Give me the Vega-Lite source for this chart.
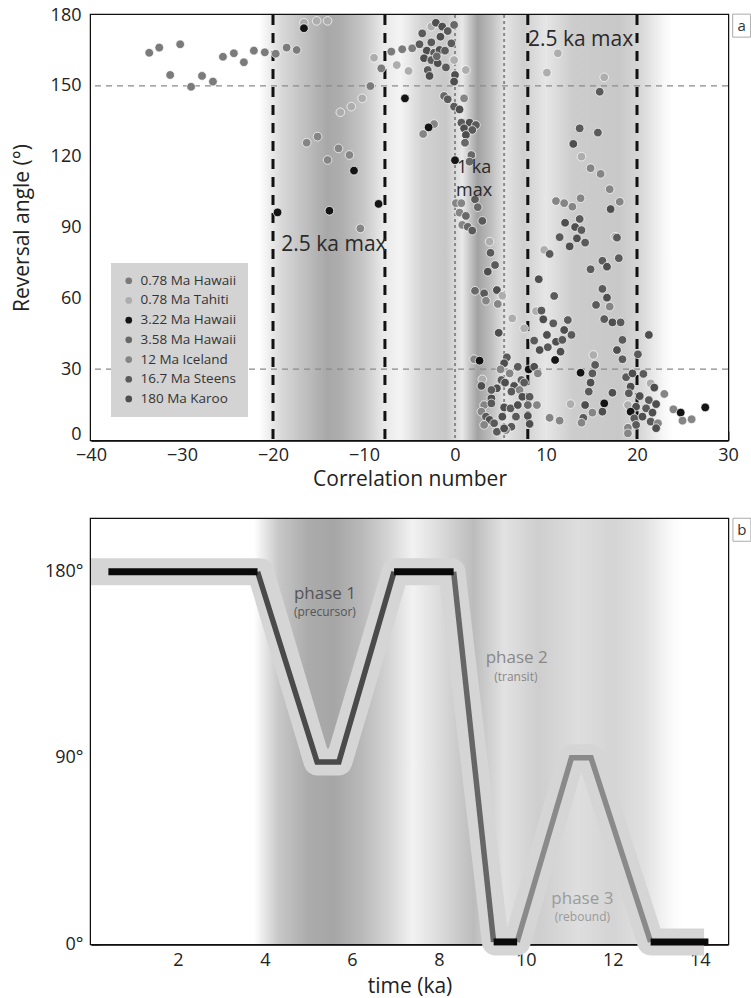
{
  "$schema": "https://vega.github.io/schema/vega-lite/v6.json",
  "background": "white",
  "padding": {"left": 9, "top": 4, "right": 0, "bottom": 0},
  "spacing": 24,
  "config": {
    "font": "Open Sans",
    "view": {"stroke": "#111", "strokeWidth": 2.5},
    "axis": {"grid": false, "domainColor": "#111", "domainWidth": 2.5, "tickColor": "#111", "tickWidth": 1.8, "tickSize": -9, "labelFontSize": 18, "labelColor": "#222", "titleFontSize": 21, "titleFontWeight": "normal", "titleColor": "#222", "labelPadding": 19, "labelFlush": false, "labelOverlap": false}
  },
  "resolve": {"scale": {"color": "independent"}, "legend": {"color": "independent"}},
  "datasets": {
    "pts": [
      {"x": -33.6, "y": 164.0, "s": "0.78 Ma Hawaii"}, {"x": -32.5, "y": 166.2, "s": "0.78 Ma Hawaii"}, {"x": -31.3, "y": 154.6, "s": "0.78 Ma Hawaii"}, {"x": -30.2, "y": 167.6, "s": "0.78 Ma Hawaii"}, {"x": -29.0, "y": 149.6, "s": "0.78 Ma Hawaii"}, {"x": -27.8, "y": 154.2, "s": "0.78 Ma Hawaii"}, {"x": -26.6, "y": 151.8, "s": "0.78 Ma Hawaii"}, {"x": -25.5, "y": 162.3, "s": "0.78 Ma Hawaii"}, {"x": -24.3, "y": 163.8, "s": "0.78 Ma Hawaii"}, {"x": -23.2, "y": 160.0, "s": "0.78 Ma Hawaii"}, {"x": -22.1, "y": 164.9, "s": "0.78 Ma Hawaii"}, {"x": -20.9, "y": 164.2, "s": "0.78 Ma Hawaii"}, {"x": -19.7, "y": 163.6, "s": "0.78 Ma Hawaii"}, {"x": -18.5, "y": 166.2, "s": "0.78 Ma Hawaii"}, {"x": -17.4, "y": 165.2, "s": "0.78 Ma Hawaii"},
      {"x": -16.6, "y": 176.7, "s": "0.78 Ma Tahiti"}, {"x": -15.2, "y": 177.5, "s": "0.78 Ma Tahiti"}, {"x": -14.0, "y": 177.5, "s": "0.78 Ma Tahiti"}, {"x": -16.6, "y": 174.4, "s": "3.22 Ma Hawaii"},
      {"x": -8.9, "y": 161.9, "s": "0.78 Ma Tahiti"}, {"x": -10.2, "y": 144.7, "s": "0.78 Ma Tahiti"}, {"x": -11.4, "y": 141.2, "s": "0.78 Ma Tahiti"}, {"x": -12.6, "y": 138.8, "s": "0.78 Ma Tahiti"},
      {"x": -8.1, "y": 157.4, "s": "0.78 Ma Hawaii"}, {"x": -9.3, "y": 149.9, "s": "0.78 Ma Hawaii"},
      {"x": -15.1, "y": 128.5, "s": "12 Ma Iceland"}, {"x": -16.3, "y": 125.9, "s": "12 Ma Iceland"}, {"x": -12.8, "y": 123.5, "s": "12 Ma Iceland"}, {"x": -11.6, "y": 120.7, "s": "12 Ma Iceland"}, {"x": -14.0, "y": 118.6, "s": "12 Ma Iceland"},
      {"x": -11.1, "y": 114.1, "s": "3.22 Ma Hawaii"}, {"x": -19.5, "y": 96.4, "s": "3.22 Ma Hawaii"}, {"x": -13.8, "y": 97.1, "s": "3.22 Ma Hawaii"}, {"x": -8.4, "y": 100.0, "s": "3.22 Ma Hawaii"}, {"x": -10.4, "y": 89.6, "s": "12 Ma Iceland"},
      {"x": -7.0, "y": 164.5, "s": "0.78 Ma Hawaii"}, {"x": -5.8, "y": 165.5, "s": "0.78 Ma Hawaii"}, {"x": -6.4, "y": 158.8, "s": "0.78 Ma Tahiti"}, {"x": -5.1, "y": 156.3, "s": "0.78 Ma Tahiti"}, {"x": -4.7, "y": 165.9, "s": "0.78 Ma Hawaii"},
      {"x": -3.9, "y": 167.6, "s": "16.7 Ma Steens"}, {"x": -3.6, "y": 172.2, "s": "16.7 Ma Steens"}, {"x": -2.6, "y": 175.1, "s": "0.78 Ma Tahiti"}, {"x": -2.1, "y": 176.7, "s": "180 Ma Karoo"}, {"x": -1.4, "y": 175.1, "s": "180 Ma Karoo"}, {"x": -0.8, "y": 173.2, "s": "16.7 Ma Steens"}, {"x": -0.1, "y": 175.8, "s": "3.58 Ma Hawaii"},
      {"x": -1.6, "y": 170.8, "s": "180 Ma Karoo"}, {"x": -2.6, "y": 168.4, "s": "16.7 Ma Steens"}, {"x": -3.1, "y": 164.9, "s": "180 Ma Karoo"}, {"x": -2.3, "y": 164.0, "s": "16.7 Ma Steens"}, {"x": -1.7, "y": 165.2, "s": "180 Ma Karoo"}, {"x": -1.1, "y": 164.9, "s": "16.7 Ma Steens"}, {"x": -3.4, "y": 161.7, "s": "180 Ma Karoo"}, {"x": -2.6, "y": 160.9, "s": "16.7 Ma Steens"}, {"x": -1.9, "y": 159.6, "s": "180 Ma Karoo"}, {"x": -3.0, "y": 156.7, "s": "16.7 Ma Steens"}, {"x": -2.8, "y": 154.2, "s": "180 Ma Karoo"}, {"x": -1.0, "y": 157.8, "s": "16.7 Ma Steens"}, {"x": -0.1, "y": 160.9, "s": "0.78 Ma Tahiti"}, {"x": 1.2, "y": 156.7, "s": "0.78 Ma Tahiti"}, {"x": 0.0, "y": 154.6, "s": "180 Ma Karoo"}, {"x": -0.1, "y": 151.8, "s": "180 Ma Karoo"}, {"x": -0.4, "y": 168.0, "s": "16.7 Ma Steens"}, {"x": -2.0, "y": 162.5, "s": "3.58 Ma Hawaii"},
      {"x": -5.5, "y": 144.7, "s": "3.22 Ma Hawaii"}, {"x": -1.2, "y": 145.7, "s": "3.58 Ma Hawaii"}, {"x": -0.8, "y": 144.3, "s": "16.7 Ma Steens"}, {"x": 1.0, "y": 144.7, "s": "12 Ma Iceland"}, {"x": -0.1, "y": 141.2, "s": "16.7 Ma Steens"}, {"x": 0.5, "y": 140.0, "s": "180 Ma Karoo"},
      {"x": -2.3, "y": 133.8, "s": "12 Ma Iceland"}, {"x": -2.9, "y": 132.4, "s": "3.22 Ma Hawaii"}, {"x": -3.5, "y": 129.6, "s": "12 Ma Iceland"}, {"x": 0.7, "y": 134.4, "s": "16.7 Ma Steens"}, {"x": 1.6, "y": 134.4, "s": "180 Ma Karoo"}, {"x": 2.3, "y": 133.4, "s": "16.7 Ma Steens"}, {"x": 1.0, "y": 132.0, "s": "180 Ma Karoo"}, {"x": 1.9, "y": 131.3, "s": "16.7 Ma Steens"}, {"x": 1.2, "y": 129.2, "s": "180 Ma Karoo"}, {"x": 1.1, "y": 125.9, "s": "3.58 Ma Hawaii"}, {"x": 1.8, "y": 120.7, "s": "3.58 Ma Hawaii"}, {"x": 0.0, "y": 118.5, "s": "3.22 Ma Hawaii"}, {"x": 1.6, "y": 117.9, "s": "3.58 Ma Hawaii"},
      {"x": 0.1, "y": 100.3, "s": "12 Ma Iceland"}, {"x": 0.7, "y": 100.3, "s": "12 Ma Iceland"}, {"x": 2.2, "y": 101.9, "s": "16.7 Ma Steens"}, {"x": 2.5, "y": 98.6, "s": "3.58 Ma Hawaii"}, {"x": 0.5, "y": 96.3, "s": "12 Ma Iceland"}, {"x": 1.2, "y": 94.9, "s": "3.58 Ma Hawaii"}, {"x": 3.0, "y": 92.8, "s": "16.7 Ma Steens"}, {"x": 0.8, "y": 91.1, "s": "12 Ma Iceland"}, {"x": 1.4, "y": 90.3, "s": "3.58 Ma Hawaii"}, {"x": 1.9, "y": 88.7, "s": "16.7 Ma Steens"}, {"x": 3.8, "y": 84.0, "s": "0.78 Ma Tahiti"}, {"x": 3.9, "y": 79.3, "s": "16.7 Ma Steens"}, {"x": 4.4, "y": 74.1, "s": "16.7 Ma Steens"}, {"x": 3.6, "y": 71.3, "s": "180 Ma Karoo"},
      {"x": 2.2, "y": 63.2, "s": "3.58 Ma Hawaii"}, {"x": 3.2, "y": 62.1, "s": "16.7 Ma Steens"}, {"x": 4.6, "y": 63.5, "s": "180 Ma Karoo"}, {"x": 3.4, "y": 59.0, "s": "12 Ma Iceland"}, {"x": 4.7, "y": 57.6, "s": "12 Ma Iceland"}, {"x": 5.2, "y": 61.1, "s": "0.78 Ma Tahiti"}, {"x": 6.3, "y": 51.5, "s": "0.78 Ma Tahiti"}, {"x": 4.8, "y": 45.4, "s": "180 Ma Karoo"}, {"x": 7.6, "y": 47.3, "s": "0.78 Ma Tahiti"},
      {"x": 9.2, "y": 68.1, "s": "180 Ma Karoo"}, {"x": 10.9, "y": 61.0, "s": "16.7 Ma Steens"}, {"x": 8.9, "y": 54.6, "s": "0.78 Ma Tahiti"}, {"x": 9.5, "y": 54.8, "s": "16.7 Ma Steens"}, {"x": 9.7, "y": 51.1, "s": "180 Ma Karoo"}, {"x": 10.8, "y": 49.4, "s": "16.7 Ma Steens"}, {"x": 10.1, "y": 44.5, "s": "180 Ma Karoo"}, {"x": 8.7, "y": 42.1, "s": "16.7 Ma Steens"}, {"x": 9.3, "y": 38.1, "s": "180 Ma Karoo"}, {"x": 10.2, "y": 39.3, "s": "16.7 Ma Steens"}, {"x": 11.1, "y": 41.6, "s": "180 Ma Karoo"}, {"x": 11.8, "y": 42.4, "s": "16.7 Ma Steens"}, {"x": 12.0, "y": 46.6, "s": "180 Ma Karoo"}, {"x": 12.4, "y": 50.8, "s": "16.7 Ma Steens"}, {"x": 12.8, "y": 44.5, "s": "16.7 Ma Steens"}, {"x": 11.6, "y": 37.4, "s": "180 Ma Karoo"},
      {"x": 2.1, "y": 34.2, "s": "12 Ma Iceland"}, {"x": 2.7, "y": 33.6, "s": "3.22 Ma Hawaii"}, {"x": 5.7, "y": 35.0, "s": "16.7 Ma Steens"}, {"x": 5.4, "y": 32.5, "s": "180 Ma Karoo"}, {"x": 5.0, "y": 29.9, "s": "12 Ma Iceland"}, {"x": 6.9, "y": 31.0, "s": "16.7 Ma Steens"}, {"x": 8.1, "y": 29.9, "s": "3.22 Ma Hawaii"}, {"x": 8.7, "y": 31.0, "s": "180 Ma Karoo"}, {"x": 9.1, "y": 28.2, "s": "12 Ma Iceland"}, {"x": 11.0, "y": 33.9, "s": "3.22 Ma Hawaii"},
      {"x": 3.0, "y": 25.7, "s": "0.78 Ma Tahiti"}, {"x": 2.9, "y": 22.9, "s": "180 Ma Karoo"}, {"x": 6.0, "y": 28.2, "s": "12 Ma Iceland"}, {"x": 5.1, "y": 25.4, "s": "16.7 Ma Steens"}, {"x": 6.5, "y": 22.9, "s": "180 Ma Karoo"}, {"x": 7.3, "y": 25.4, "s": "16.7 Ma Steens"}, {"x": 4.6, "y": 21.9, "s": "180 Ma Karoo"}, {"x": 6.2, "y": 20.5, "s": "16.7 Ma Steens"}, {"x": 7.1, "y": 21.2, "s": "12 Ma Iceland"}, {"x": 7.4, "y": 18.3, "s": "180 Ma Karoo"}, {"x": 8.2, "y": 18.3, "s": "16.7 Ma Steens"}, {"x": 4.0, "y": 17.7, "s": "180 Ma Karoo"}, {"x": 3.2, "y": 14.8, "s": "12 Ma Iceland"}, {"x": 4.0, "y": 15.5, "s": "16.7 Ma Steens"}, {"x": 5.4, "y": 13.8, "s": "180 Ma Karoo"}, {"x": 6.1, "y": 13.4, "s": "16.7 Ma Steens"}, {"x": 6.9, "y": 14.8, "s": "180 Ma Karoo"}, {"x": 8.0, "y": 14.8, "s": "3.58 Ma Hawaii"}, {"x": 9.0, "y": 14.8, "s": "12 Ma Iceland"},
      {"x": 2.9, "y": 12.0, "s": "12 Ma Iceland"}, {"x": 3.4, "y": 9.9, "s": "16.7 Ma Steens"}, {"x": 3.8, "y": 8.5, "s": "180 Ma Karoo"}, {"x": 4.3, "y": 7.1, "s": "16.7 Ma Steens"}, {"x": 3.2, "y": 6.4, "s": "12 Ma Iceland"}, {"x": 5.2, "y": 9.9, "s": "180 Ma Karoo"}, {"x": 6.7, "y": 9.9, "s": "16.7 Ma Steens"}, {"x": 8.0, "y": 10.2, "s": "180 Ma Karoo"}, {"x": 6.2, "y": 5.6, "s": "16.7 Ma Steens"}, {"x": 8.2, "y": 6.8, "s": "180 Ma Karoo"}, {"x": 10.4, "y": 9.4, "s": "12 Ma Iceland"}, {"x": 11.5, "y": 8.2, "s": "12 Ma Iceland"}, {"x": 4.0, "y": 21.2, "s": "16.7 Ma Steens"}, {"x": 5.5, "y": 24.3, "s": "180 Ma Karoo"}, {"x": 7.6, "y": 24.3, "s": "16.7 Ma Steens"}, {"x": 4.6, "y": 3.5, "s": "16.7 Ma Steens"}, {"x": 5.6, "y": 4.2, "s": "12 Ma Iceland"}, {"x": 5.4, "y": 4.9, "s": "180 Ma Karoo"},
      {"x": 11.5, "y": 85.9, "s": "16.7 Ma Steens"}, {"x": 12.6, "y": 82.0, "s": "180 Ma Karoo"}, {"x": 9.8, "y": 80.5, "s": "0.78 Ma Tahiti"}, {"x": 10.4, "y": 78.8, "s": "16.7 Ma Steens"},
      {"x": 11.3, "y": 163.8, "s": "0.78 Ma Tahiti"}, {"x": 10.1, "y": 155.6, "s": "0.78 Ma Tahiti"}, {"x": 16.4, "y": 153.6, "s": "0.78 Ma Tahiti"}, {"x": 15.9, "y": 147.5, "s": "16.7 Ma Steens"},
      {"x": 13.7, "y": 132.0, "s": "16.7 Ma Steens"}, {"x": 15.7, "y": 130.2, "s": "16.7 Ma Steens"}, {"x": 13.0, "y": 125.4, "s": "180 Ma Karoo"}, {"x": 13.9, "y": 120.0, "s": "0.78 Ma Tahiti"}, {"x": 14.9, "y": 115.1, "s": "12 Ma Iceland"}, {"x": 16.0, "y": 112.7, "s": "12 Ma Iceland"}, {"x": 17.0, "y": 106.2, "s": "12 Ma Iceland"}, {"x": 18.1, "y": 100.9, "s": "12 Ma Iceland"}, {"x": 17.1, "y": 97.8, "s": "180 Ma Karoo"},
      {"x": 11.1, "y": 101.2, "s": "12 Ma Iceland"}, {"x": 12.0, "y": 100.3, "s": "12 Ma Iceland"}, {"x": 12.9, "y": 98.8, "s": "12 Ma Iceland"}, {"x": 13.8, "y": 102.4, "s": "12 Ma Iceland"}, {"x": 12.1, "y": 92.0, "s": "180 Ma Karoo"}, {"x": 13.7, "y": 93.6, "s": "16.7 Ma Steens"}, {"x": 13.2, "y": 90.2, "s": "180 Ma Karoo"}, {"x": 13.9, "y": 88.9, "s": "16.7 Ma Steens"}, {"x": 13.4, "y": 85.4, "s": "180 Ma Karoo"}, {"x": 14.3, "y": 83.6, "s": "16.7 Ma Steens"},
      {"x": 17.6, "y": 86.1, "s": "0.78 Ma Tahiti"}, {"x": 17.8, "y": 85.7, "s": "16.7 Ma Steens"}, {"x": 18.0, "y": 77.0, "s": "16.7 Ma Steens"}, {"x": 16.2, "y": 75.9, "s": "16.7 Ma Steens"}, {"x": 16.7, "y": 73.4, "s": "180 Ma Karoo"}, {"x": 14.9, "y": 72.3, "s": "16.7 Ma Steens"}, {"x": 16.2, "y": 64.0, "s": "16.7 Ma Steens"}, {"x": 16.7, "y": 60.3, "s": "180 Ma Karoo"}, {"x": 15.5, "y": 57.2, "s": "16.7 Ma Steens"}, {"x": 17.0, "y": 56.5, "s": "12 Ma Iceland"}, {"x": 16.4, "y": 51.2, "s": "16.7 Ma Steens"}, {"x": 17.3, "y": 49.8, "s": "180 Ma Karoo"}, {"x": 18.2, "y": 49.8, "s": "16.7 Ma Steens"},
      {"x": 21.3, "y": 44.5, "s": "180 Ma Karoo"}, {"x": 18.4, "y": 42.4, "s": "16.7 Ma Steens"}, {"x": 17.8, "y": 38.1, "s": "180 Ma Karoo"}, {"x": 18.4, "y": 34.2, "s": "16.7 Ma Steens"}, {"x": 20.1, "y": 36.3, "s": "16.7 Ma Steens"}, {"x": 15.2, "y": 36.0, "s": "0.78 Ma Tahiti"}, {"x": 15.4, "y": 31.8, "s": "16.7 Ma Steens"}, {"x": 13.8, "y": 28.5, "s": "3.22 Ma Hawaii"}, {"x": 15.1, "y": 28.2, "s": "16.7 Ma Steens"}, {"x": 14.9, "y": 24.3, "s": "180 Ma Karoo"}, {"x": 14.7, "y": 20.5, "s": "16.7 Ma Steens"}, {"x": 17.3, "y": 20.0, "s": "180 Ma Karoo"},
      {"x": 18.8, "y": 26.6, "s": "16.7 Ma Steens"}, {"x": 19.5, "y": 28.2, "s": "180 Ma Karoo"}, {"x": 20.7, "y": 28.0, "s": "16.7 Ma Steens"}, {"x": 19.3, "y": 22.6, "s": "180 Ma Karoo"}, {"x": 19.1, "y": 19.8, "s": "16.7 Ma Steens"}, {"x": 21.5, "y": 24.0, "s": "0.78 Ma Tahiti"}, {"x": 21.9, "y": 22.2, "s": "180 Ma Karoo"}, {"x": 23.0, "y": 19.5, "s": "12 Ma Iceland"}, {"x": 20.3, "y": 18.6, "s": "180 Ma Karoo"}, {"x": 21.3, "y": 16.9, "s": "16.7 Ma Steens"}, {"x": 22.1, "y": 15.2, "s": "180 Ma Karoo"}, {"x": 19.0, "y": 14.8, "s": "0.78 Ma Tahiti"}, {"x": 19.9, "y": 14.1, "s": "180 Ma Karoo"}, {"x": 21.0, "y": 13.4, "s": "16.7 Ma Steens"}, {"x": 21.7, "y": 11.6, "s": "180 Ma Karoo"}, {"x": 19.3, "y": 12.0, "s": "3.22 Ma Hawaii"}, {"x": 19.7, "y": 9.2, "s": "16.7 Ma Steens"}, {"x": 20.6, "y": 9.9, "s": "180 Ma Karoo"}, {"x": 21.5, "y": 7.8, "s": "16.7 Ma Steens"}, {"x": 22.3, "y": 7.1, "s": "12 Ma Iceland"}, {"x": 22.1, "y": 5.0, "s": "180 Ma Karoo"}, {"x": 19.9, "y": 6.4, "s": "16.7 Ma Steens"}, {"x": 19.0, "y": 5.2, "s": "12 Ma Iceland"}, {"x": 19.0, "y": 2.8, "s": "12 Ma Iceland"},
      {"x": 16.4, "y": 15.5, "s": "3.22 Ma Hawaii"}, {"x": 16.2, "y": 12.0, "s": "180 Ma Karoo"}, {"x": 15.1, "y": 11.6, "s": "12 Ma Iceland"}, {"x": 14.3, "y": 14.8, "s": "180 Ma Karoo"}, {"x": 12.7, "y": 15.2, "s": "0.78 Ma Tahiti"}, {"x": 14.1, "y": 9.4, "s": "16.7 Ma Steens"}, {"x": 13.9, "y": 7.3, "s": "12 Ma Iceland"},
      {"x": 24.0, "y": 13.0, "s": "12 Ma Iceland"}, {"x": 24.8, "y": 11.6, "s": "3.22 Ma Hawaii"}, {"x": 25.0, "y": 8.2, "s": "12 Ma Iceland"}, {"x": 26.0, "y": 8.8, "s": "12 Ma Iceland"}, {"x": 27.5, "y": 13.8, "s": "3.22 Ma Hawaii"}
    ],
    "band": [
      {"t": 0, "a": 180}, {"t": 3.9, "a": 180}, {"t": 5.2, "a": 88}, {"t": 5.7, "a": 88}, {"t": 7.0, "a": 180}, {"t": 8.3, "a": 180}, {"t": 9.3, "a": 1}, {"t": 9.8, "a": 1}, {"t": 11.05, "a": 90}, {"t": 11.5, "a": 90}, {"t": 12.87, "a": 1}, {"t": 14.1, "a": 1}
    ],
    "slopes": [
      {"seg": "s1", "ph": "p1", "t": 3.83, "a": 180}, {"seg": "s1", "ph": "p1", "t": 5.2, "a": 88}, {"seg": "s1", "ph": "p1", "t": 5.7, "a": 88}, {"seg": "s1", "ph": "p1", "t": 6.97, "a": 180},
      {"seg": "s2", "ph": "p2", "t": 8.34, "a": 180}, {"seg": "s2", "ph": "p2", "t": 9.26, "a": 1},
      {"seg": "s3", "ph": "p3", "t": 9.8, "a": 1}, {"seg": "s3", "ph": "p3", "t": 11.05, "a": 90}, {"seg": "s3", "ph": "p3", "t": 11.5, "a": 90}, {"seg": "s3", "ph": "p3", "t": 12.87, "a": 1}
    ],
    "flats": [
      {"seg": "f1", "t": 0.4, "a": 180}, {"seg": "f1", "t": 3.83, "a": 180},
      {"seg": "f2", "t": 6.97, "a": 180}, {"seg": "f2", "t": 8.34, "a": 180},
      {"seg": "f3", "t": 9.26, "a": 1}, {"seg": "f3", "t": 9.8, "a": 1},
      {"seg": "f4", "t": 12.87, "a": 1}, {"seg": "f4", "t": 14.2, "a": 1}
    ]
  },
  "vconcat": [
    {
      "width": 637,
      "height": 425,
      "layer": [
        {
          "data": {"values": [{}]},
          "mark": {"type": "rect", "fill": {"gradient": "linear", "x1": 0, "x2": 1, "y1": 0, "y2": 0, "stops": [
            {"offset": 0, "color": "#ffffff"}, {"offset": 0.264, "color": "#ffffff"}, {"offset": 0.3, "color": "#d8d8d8"}, {"offset": 0.329, "color": "#c4c4c4"}, {"offset": 0.371, "color": "#a8a8a8"}, {"offset": 0.393, "color": "#aeaeae"}, {"offset": 0.429, "color": "#c8c8c8"}, {"offset": 0.457, "color": "#e8e8e8"}, {"offset": 0.486, "color": "#f4f4f4"}, {"offset": 0.521, "color": "#d2d2d2"}, {"offset": 0.557, "color": "#c8c8c8"}, {"offset": 0.583, "color": "#e8e8e8"}, {"offset": 0.607, "color": "#a2a2a2"}, {"offset": 0.629, "color": "#c0c0c0"}, {"offset": 0.65, "color": "#e4e4e4"}, {"offset": 0.679, "color": "#cfcfcf"}, {"offset": 0.714, "color": "#e6e6e6"}, {"offset": 0.757, "color": "#cccccc"}, {"offset": 0.829, "color": "#c8c8c8"}, {"offset": 0.864, "color": "#d8d8d8"}, {"offset": 0.9, "color": "#f8f8f8"}, {"offset": 0.914, "color": "#ffffff"}, {"offset": 1, "color": "#ffffff"}]}},
          "encoding": {
            "x": {"datum": -40, "type": "quantitative", "scale": {"domain": [-40, 30], "nice": false, "zero": false}, "axis": {"values": [-40, -30, -20, -10, 0, 10, 20, 30], "title": "Correlation number", "labelPadding": 15, "titlePadding": 4}},
            "x2": {"datum": 30},
            "y": {"datum": 0, "type": "quantitative", "scale": {"domain": [0, 180], "nice": false}, "axis": {"values": [0, 30, 60, 90, 120, 150, 180], "title": "Reversal angle (°)", "titlePadding": 18, "labelOffset": {"condition": {"test": "datum.value === 0", "value": -6}, "value": 0}}},
            "y2": {"datum": 180}
          }
        },
        {
          "data": {"values": [{"v": 150}, {"v": 30}]},
          "mark": {"type": "rule", "color": "#8a8a8a", "strokeWidth": 1.3, "strokeDash": [6, 5]},
          "encoding": {"y": {"field": "v", "type": "quantitative"}}
        },
        {
          "data": {"values": [{"v": -20}, {"v": -7.7}, {"v": 8}, {"v": 20}]},
          "mark": {"type": "rule", "color": "#111", "strokeWidth": 3, "strokeDash": [10, 8]},
          "encoding": {"x": {"field": "v", "type": "quantitative"}}
        },
        {
          "data": {"values": [{"v": 0}, {"v": 5.4}]},
          "mark": {"type": "rule", "color": "#8a8a8a", "strokeWidth": 2, "strokeDash": [3, 3]},
          "encoding": {"x": {"field": "v", "type": "quantitative"}}
        },
        {
          "data": {"name": "pts"},
          "mark": {"type": "circle", "size": 75, "opacity": 1, "stroke": "white", "strokeWidth": 0.7},
          "encoding": {
            "x": {"field": "x", "type": "quantitative"},
            "y": {"field": "y", "type": "quantitative"},
            "color": {"field": "s", "type": "nominal", "scale": {"domain": ["0.78 Ma Hawaii", "0.78 Ma Tahiti", "3.22 Ma Hawaii", "3.58 Ma Hawaii", "12 Ma Iceland", "16.7 Ma Steens", "180 Ma Karoo"], "range": ["#7b7b7b", "#adadad", "#141414", "#686868", "#858585", "#5a5a5a", "#4e4e4e"]},
              "legend": {"orient": "none", "legendX": 20, "legendY": 248, "title": null, "fillColor": "#d3d3d3", "padding": 11, "labelFontSize": 13.5, "labelColor": "#333", "symbolSize": 45, "symbolType": "circle", "symbolStrokeWidth": 0, "rowPadding": 4.7, "labelOffset": 5}}
          }
        },
        {
          "data": {"values": [{"x": -13.3, "y": 82.6, "t": "2.5 ka max"}, {"x": 13.8, "y": 169.5, "t": "2.5 ka max"}]},
          "mark": {"type": "text", "fontSize": 21, "color": "#2a2a2a", "baseline": "middle"},
          "encoding": {"x": {"field": "x", "type": "quantitative"}, "y": {"field": "y", "type": "quantitative"}, "text": {"field": "t"}}
        },
        {
          "data": {"values": [{"x": 2.1, "y": 115.4, "t": "1 ka"}, {"x": 2.1, "y": 105.6, "t": "max"}]},
          "mark": {"type": "text", "fontSize": 18, "color": "#2a2a2a", "baseline": "middle"},
          "encoding": {"x": {"field": "x", "type": "quantitative"}, "y": {"field": "y", "type": "quantitative"}, "text": {"field": "t"}}
        },
        {
          "data": {"values": [{}]},
          "mark": {"type": "point", "shape": "M-0.78,-1H0.78V1H-0.78Z", "size": 529, "filled": true, "fill": "white", "stroke": "#aaaaaa", "strokeWidth": 1, "opacity": 1},
          "encoding": {"x": {"datum": 31.5}, "y": {"datum": 175.5}}
        },
        {
          "data": {"values": [{"t": "a"}]},
          "mark": {"type": "text", "fontSize": 15, "color": "#333"},
          "encoding": {"x": {"datum": 31.5}, "y": {"datum": 175.5}, "text": {"field": "t"}}
        }
      ]
    },
    {
      "width": 637,
      "height": 425,
      "layer": [
        {
          "data": {"values": [{}]},
          "mark": {"type": "rect", "fill": {"gradient": "linear", "x1": 0, "x2": 1, "y1": 0, "y2": 0, "stops": [
            {"offset": 0, "color": "#ffffff"}, {"offset": 0.256, "color": "#ffffff"}, {"offset": 0.294, "color": "#c8c8c8"}, {"offset": 0.341, "color": "#ababab"}, {"offset": 0.382, "color": "#a6a6a6"}, {"offset": 0.423, "color": "#b8b8b8"}, {"offset": 0.464, "color": "#d2d2d2"}, {"offset": 0.505, "color": "#f2f2f2"}, {"offset": 0.546, "color": "#dcdcdc"}, {"offset": 0.601, "color": "#bcbcbc"}, {"offset": 0.648, "color": "#e2e2e2"}, {"offset": 0.703, "color": "#cecece"}, {"offset": 0.765, "color": "#dedede"}, {"offset": 0.819, "color": "#d4d4d4"}, {"offset": 0.867, "color": "#e0e0e0"}, {"offset": 0.908, "color": "#f8f8f8"}, {"offset": 0.928, "color": "#ffffff"}, {"offset": 1, "color": "#ffffff"}]}},
          "encoding": {
            "x": {"datum": 0, "type": "quantitative", "scale": {"domain": [0, 14.65], "nice": false, "zero": false}, "axis": {"values": [1, 2, 3, 4, 5, 6, 7, 8, 9, 10, 11, 12, 13, 14], "labelExpr": "datum.value % 2 == 0 ? datum.value : ''", "title": "time (ka)", "labelPadding": 16, "titlePadding": 6}},
            "x2": {"datum": 14.65},
            "y": {"datum": 0, "type": "quantitative", "scale": {"domain": [0, 205.5], "nice": false}, "axis": {"values": [0, 90, 180], "labelExpr": "datum.value + '°'", "title": null, "labelPadding": 17}},
            "y2": {"datum": 205.5}
          }
        },
        {
          "data": {"name": "band"},
          "mark": {"type": "line", "color": "#d5d5d5", "strokeWidth": 27, "strokeJoin": "round", "strokeCap": "butt", "clip": false},
          "encoding": {"x": {"field": "t", "type": "quantitative"}, "y": {"field": "a", "type": "quantitative"}}
        },
        {
          "data": {"name": "slopes"},
          "mark": {"type": "line", "strokeWidth": 5.5, "strokeJoin": "miter"},
          "encoding": {
            "x": {"field": "t", "type": "quantitative"},
            "y": {"field": "a", "type": "quantitative"},
            "detail": {"field": "seg"},
            "stroke": {"field": "ph", "type": "nominal", "scale": {"domain": ["p1", "p2", "p3"], "range": ["#4a4a4a", "#666666", "#8a8a8a"]}, "legend": null}
          }
        },
        {
          "data": {"name": "flats"},
          "mark": {"type": "line", "strokeWidth": 7, "color": "#0a0a0a", "clip": false},
          "encoding": {"x": {"field": "t", "type": "quantitative"}, "y": {"field": "a", "type": "quantitative"}, "detail": {"field": "seg"}}
        },
        {
          "data": {"values": [{"t": 5.38, "a": 169.3, "l": "phase 1", "ph": "p1"}, {"t": 9.79, "a": 138.4, "l": "phase 2", "ph": "p2"}, {"t": 11.3, "a": 21.9, "l": "phase 3", "ph": "p3"}]},
          "mark": {"type": "text", "fontSize": 17, "baseline": "middle"},
          "encoding": {"x": {"field": "t", "type": "quantitative"}, "y": {"field": "a", "type": "quantitative"}, "text": {"field": "l"},
            "fill": {"field": "ph", "type": "nominal", "scale": {"domain": ["p1", "p2", "p3"], "range": ["#555555", "#888888", "#9a9a9a"]}, "legend": null}}
        },
        {
          "data": {"values": [{"t": 5.38, "a": 160.6, "l": "(precursor)", "ph": "p1"}, {"t": 9.77, "a": 129.2, "l": "(transit)", "ph": "p2"}, {"t": 11.3, "a": 13.1, "l": "(rebound)", "ph": "p3"}]},
          "mark": {"type": "text", "fontSize": 12, "baseline": "middle"},
          "encoding": {"x": {"field": "t", "type": "quantitative"}, "y": {"field": "a", "type": "quantitative"}, "text": {"field": "l"},
            "fill": {"field": "ph", "type": "nominal", "legend": null}}
        },
        {
          "data": {"values": [{}]},
          "mark": {"type": "point", "shape": "M-0.78,-1H0.78V1H-0.78Z", "size": 529, "filled": true, "fill": "white", "stroke": "#aaaaaa", "strokeWidth": 1, "opacity": 1},
          "encoding": {"x": {"datum": 14.97}, "y": {"datum": 200.3}}
        },
        {
          "data": {"values": [{"t": "b"}]},
          "mark": {"type": "text", "fontSize": 15, "color": "#333"},
          "encoding": {"x": {"datum": 14.97}, "y": {"datum": 200.3}, "text": {"field": "t"}}
        }
      ]
    }
  ]
}
